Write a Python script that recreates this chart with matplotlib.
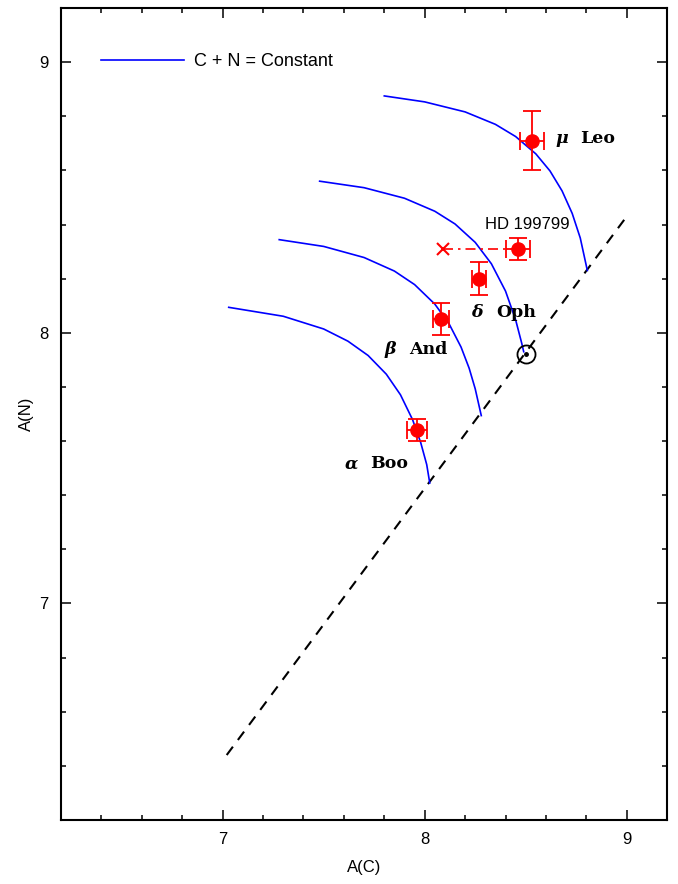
import matplotlib
matplotlib.use("Agg")
import matplotlib.pyplot as plt
from matplotlib.ticker import MultipleLocator

# stellar C and N abundances (log eps) with 1-sigma errors
star_names = ["mu Leo", "HD 199799", "delta Oph", "beta And", "alpha Boo"]
star_c = [8.53, 8.46, 8.27, 8.08, 7.96]
star_n = [8.71, 8.31, 8.20, 8.05, 7.64]
star_c_err = [0.06, 0.06, 0.035, 0.04, 0.05]
star_n_err = [0.11, 0.04, 0.06, 0.06, 0.04]

# alternative C value for HD 199799
hd_alt_c = 8.09
hd_alt_n = 8.31

# solar abundances
sun_c = 8.50
sun_n = 7.92

# locus of unmixed (solar C/N) compositions
locus_c = [7.02, 9.00]
locus_n = [6.44, 8.43]

# tracks of constant C+N, outermost first
track_c = [
    [7.80, 8.00, 8.20, 8.35, 8.45, 8.55, 8.62, 8.68, 8.73, 8.77, 8.805],
    [7.48, 7.70, 7.90, 8.05, 8.15, 8.25, 8.33, 8.40, 8.45, 8.48, 8.49],
    [7.28, 7.50, 7.70, 7.85, 7.95, 8.05, 8.12, 8.18, 8.22, 8.25, 8.28],
    [7.03, 7.30, 7.50, 7.62, 7.72, 7.81, 7.88, 7.94, 7.98, 8.01, 8.025],
]
track_n = [
    [8.875, 8.853, 8.816, 8.770, 8.725, 8.661, 8.598, 8.524, 8.441, 8.350, 8.23],
    [8.560, 8.536, 8.497, 8.449, 8.402, 8.334, 8.255, 8.154, 8.048, 7.962, 7.93],
    [8.344, 8.319, 8.278, 8.228, 8.178, 8.106, 8.034, 7.947, 7.869, 7.793, 7.694],
    [8.094, 8.061, 8.014, 7.969, 7.916, 7.847, 7.771, 7.679, 7.595, 7.513, 7.445],
]

plt.rcParams.update({
    "font.family": "Liberation Sans",
    "font.size": 12,
})

blue = "#0000ff"
red = "#ff0000"

fig = plt.figure(figsize=(6.78, 8.84), dpi=100)
ax = fig.add_axes([0.090, 0.0724, 0.894, 0.9186])

for i, (cc, nn) in enumerate(zip(track_c, track_n)):
    ax.plot(cc, nn, color=blue, lw=1.2,
            label="C + N = Constant" if i == 0 else None, zorder=2)

ax.plot(locus_c, locus_n, color="black", lw=1.5, ls=(0, (5, 4)), zorder=1)

# solar symbol
ax.plot(sun_c, sun_n, "o", ms=13, mfc="none", mec="black", mew=1.3, zorder=4)
ax.plot(sun_c, sun_n, "o", ms=2.5, color="black", zorder=4)

# HD 199799: link to alternative value
ax.plot([hd_alt_c, star_c[1]], [hd_alt_n, star_n[1]], color=red, lw=1.2,
        ls=(0, (6, 3, 1.5, 3)), zorder=3)
ax.plot(hd_alt_c, hd_alt_n, "x", color=red, ms=9, mew=1.5, zorder=3)

ax.errorbar(star_c, star_n, xerr=star_c_err, yerr=star_n_err, fmt="o",
            color=red, ms=9.5, elinewidth=1.3, capsize=6.5, capthick=1.3,
            zorder=5)

# star labels
def star_label(x, y, greek, name):
    ax.text(x, y, greek, family="DejaVu Serif", fontsize=12.5, fontweight="bold",
            fontstyle="italic", va="baseline", ha="left")
    ax.annotate(name, (x, y), xytext=(18, 0), textcoords="offset points",
                family="DejaVu Serif", fontsize=12.5, fontweight="bold",
                va="baseline", ha="left")

star_label(8.647, 8.70, "\u03bc", "Leo")
star_label(8.231, 8.059, "\u03b4", "Oph")
star_label(7.799, 7.921, "\u03b2", "And")
star_label(7.604, 7.499, "\u03b1", "Boo")
ax.text(8.297, 8.382, "HD 199799", fontsize=12, va="baseline", ha="left")

ax.set_xlim(6.2, 9.2)
ax.set_ylim(6.2, 9.2)
ax.xaxis.set_major_locator(MultipleLocator(1))
ax.xaxis.set_minor_locator(MultipleLocator(0.2))
ax.yaxis.set_major_locator(MultipleLocator(1))
ax.yaxis.set_minor_locator(MultipleLocator(0.2))
ax.tick_params(which="both", direction="in", top=True, right=True,
               width=1.1, labelsize=12, pad=9)
ax.tick_params(which="major", length=7.5)
ax.tick_params(which="minor", length=3.8)
for sp in ax.spines.values():
    sp.set_linewidth(1.5)

ax.set_xlabel("A(C)", fontsize=12, labelpad=9)
ax.set_ylabel("A(N)", fontsize=12)
ax.yaxis.set_label_coords(-0.045, 0.5)

ax.legend(loc="center left", bbox_to_anchor=(0.066, 0.9335), frameon=False,
          handlelength=4.6, handletextpad=0.55, borderpad=0, borderaxespad=0,
          fontsize=13)

fig.savefig("out.png", dpi=100, facecolor="white")
